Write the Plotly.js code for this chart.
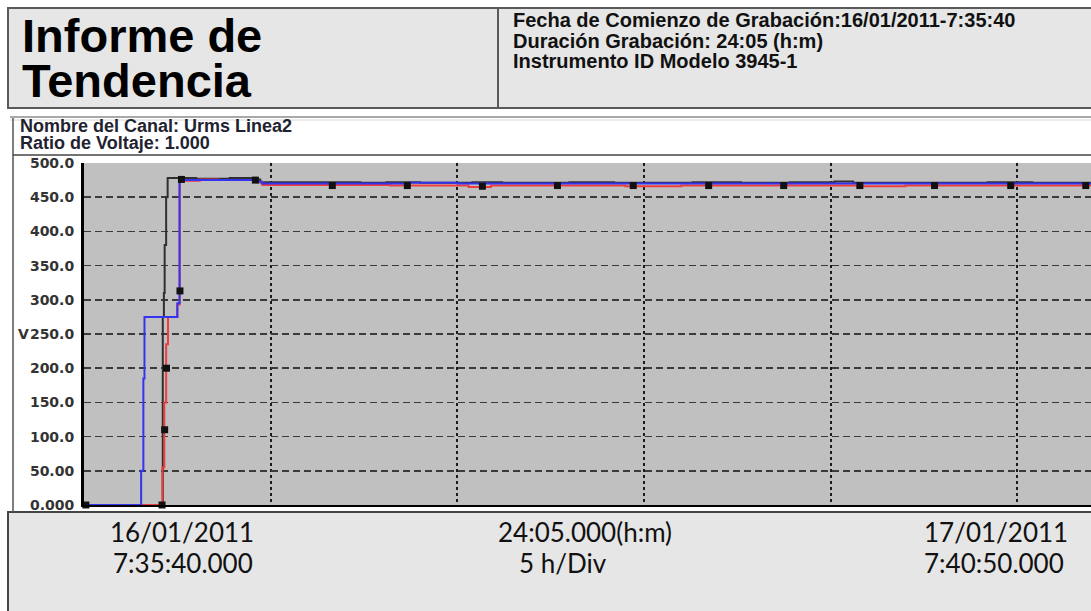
<!DOCTYPE html>
<html>
<head>
<meta charset="utf-8">
<script src="https://cdn.plot.ly/plotly-3.0.1.min.js"></script>
<style>
html,body{margin:0;padding:0;background:#fff;}
#chart{width:1091px;height:611px;}
</style>
</head>
<body>
<div id="chart"></div>
<script>
// ---- Data (hours since start, volts) ----
const tBlack = [0, 2.11, 2.14, 2.16, 2.20, 2.24, 3.0, 3.9, 4.55, 4.72, 6.0, 7.4, 8.1, 9.0, 10.4, 11.2, 12.5, 13.0, 14.2, 15.4, 16.3, 17.6, 18.9, 20.1, 20.6, 22.3, 23.5, 24.2, 25.4, 26.97];
const vBlack = [0, 275, 310, 380, 450, 478, 477, 478, 476, 472, 472, 471, 472, 471, 472, 471, 471, 472, 471, 471, 472, 471, 472, 473, 471, 471, 471, 472, 471, 471];

const tRed = [0, 2.10, 2.15, 2.20, 2.25, 2.50, 2.56, 3.1, 3.6, 4.62, 4.78, 6.3, 8.2, 9.2, 10.3, 10.9, 12.0, 13.6, 14.5, 16.0, 17.8, 19.5, 20.7, 22.0, 23.4, 25.0, 26.97];
const vRed = [0, 55, 150, 235, 275, 293, 474, 476, 475, 472, 468, 468, 467, 467, 465, 467, 467, 467, 466, 467, 467, 467, 466, 467, 467, 467, 467];

const tBlue = [0, 1.53, 1.59, 1.62, 2.50, 2.56, 3.5, 4.62, 4.76, 6.5, 8.0, 8.7, 10.0, 11.5, 13.1, 14.9, 16.5, 18.2, 19.7, 21.3, 22.8, 24.6, 26.97];
const vBlue = [0, 50, 185, 275, 295, 475, 475, 473, 470, 470, 470, 471, 470, 470, 470, 470, 470, 470, 470, 470, 470, 470, 470];

const tMarks = [0.05, 2.09, 2.16, 2.21, 2.57, 2.61, 4.59, 6.65, 8.66, 10.67, 12.68, 14.71, 16.73, 18.74, 20.78, 22.78, 24.82, 26.83];
const vMarks = [0, 0, 110, 200, 313, 476, 475, 467, 467, 466, 467, 467, 467, 467, 467, 467, 467, 467];

const yTickVals = [0, 50, 100, 150, 200, 250, 300, 350, 400, 450, 500];
const yTickText = ['0.000', '50.00', '100.0', '150.0', '200.0', '250.0', '300.0', '350.0', '400.0', '450.0', '500.0'];

const titleLines = ['Informe de', 'Tendencia'];
const infoLines = ['Fecha de Comienzo de Grabación:16/01/2011-7:35:40', 'Duración Grabación: 24:05 (h:m)', 'Instrumento ID Modelo 3945-1'];
const channelLines = ['Nombre del Canal: Urms Linea2', 'Ratio de Voltaje: 1.000'];
const footerStart = ['16/01/2011', '7:35:40.000'];
const footerMid = ['24:05.000(h:m)', '5 h/Div'];
const footerEnd = ['17/01/2011', '7:40:50.000'];
const xRange = [0, 26.97];
const yRange = [0, 500];

// ---- Layout helpers (pixel -> paper) ----
const L = 84, R = 0, T = 163, B = 106, W = 1091, H = 611;
const PW = W - L - R, PH = H - T - B;
const px = x => (x - L) / PW;
const py = y => (H - B - y) / PH;

function rect(x0, y0, x1, y1, fill, lc, lw) {
  return {type: 'rect', xref: 'paper', yref: 'paper', x0: px(x0), x1: px(x1), y0: py(y1), y1: py(y0),
    fillcolor: fill, line: {color: lc, width: lw}, layer: 'below'};
}
function line(x0, y0, x1, y1, lc, lw) {
  return {type: 'line', xref: 'paper', yref: 'paper', x0: px(x0), x1: px(x1), y0: py(y0), y1: py(y1),
    line: {color: lc, width: lw}};
}
function label(text, x, y, font, xanchor) {
  return {text: text, xref: 'paper', yref: 'paper', x: px(x), y: py(y), xanchor: xanchor || 'left', yanchor: 'middle',
    showarrow: false, font: font};
}

const titleFont = {family: 'Liberation Sans, Arial, sans-serif', size: 47, color: '#000', weight: 'bold'};
const infoFont = {family: 'Liberation Sans, Arial, sans-serif', size: 20, color: '#111', weight: 'bold'};
const chanFont = {family: 'Liberation Sans, Arial, sans-serif', size: 18, color: '#1f2330', weight: 'bold'};
const footFont = {family: 'Lato, Open Sans, sans-serif', size: 26, color: '#111'};
const tickFont = {family: 'DejaVu Sans, sans-serif', size: 14, color: '#333', weight: 'bold'};

const shapes = [
  rect(8, 8, 1100, 108, '#e6e6e6', '#5a5a5a', 2),
  line(498, 8, 498, 108, '#5a5a5a', 2),
  line(10, 117, 1100, 117, '#8c8c8c', 1.5),
  line(10, 120, 1100, 120, '#d8d8d8', 1),
  line(13, 118, 13, 512, '#555', 1.5),
  line(13, 155, 1100, 155, '#444', 1.5),
  rect(8, 512, 1100, 620, '#e6e6e6', '#444', 2)
];

const annotations = [
  label(titleLines[0], 20, 35, titleFont),
  label(titleLines[1], 20, 80, titleFont),
  label(infoLines[0], 511, 20, infoFont),
  label(infoLines[1], 511, 41, infoFont),
  label(infoLines[2], 511, 61, infoFont),
  label(channelLines[0], 18, 126, chanFont),
  label(channelLines[1], 18, 143, chanFont),
  label('V', 16, 334, tickFont),
  label(footerStart[0], 182, 532, footFont, 'center'),
  label(footerStart[1], 183, 563, footFont, 'center'),
  label(footerMid[0], 585, 532, footFont, 'center'),
  label(footerMid[1], 563, 563, footFont, 'center'),
  label(footerEnd[0], 996, 532, footFont, 'center'),
  label(footerEnd[1], 994, 563, footFont, 'center')
];

const traces = [
  {x: tBlack, y: vBlack, mode: 'lines', line: {color: '#303030', width: 2, shape: 'hv'}, hoverinfo: 'skip'},
  {x: tRed, y: vRed, mode: 'lines', line: {color: '#f03c3c', width: 2, shape: 'hv'}, hoverinfo: 'skip'},
  {x: tBlue, y: vBlue, mode: 'lines', line: {color: '#3333f0', width: 2, shape: 'hv'}, hoverinfo: 'skip'},
  {x: tMarks, y: vMarks, mode: 'markers', marker: {symbol: 'square', size: 7, color: '#111'}, cliponaxis: false, hoverinfo: 'skip'}
];

const layout = {
  width: W, height: H,
  margin: {l: L, r: R, t: T, b: B, pad: 0},
  paper_bgcolor: '#ffffff',
  plot_bgcolor: '#c0c0c0',
  showlegend: false,
  xaxis: {
    range: xRange, dtick: 5, tick0: 0, showticklabels: false, ticks: '',
    showgrid: true, gridcolor: '#1a1a1a', gridwidth: 2, griddash: '3px,3px',
    zeroline: false, showline: true, linecolor: '#000', linewidth: 2, fixedrange: true
  },
  yaxis: {
    range: yRange, tickvals: yTickVals, ticktext: yTickText, ticks: '',
    tickfont: tickFont, ticklabelstandoff: 4,
    showgrid: true, gridcolor: '#3a3a3a', gridwidth: 1.5, griddash: '7px,4px',
    zeroline: false, showline: true, linecolor: '#000', linewidth: 3, fixedrange: true
  },
  shapes: shapes,
  annotations: annotations
};

Plotly.newPlot('chart', traces, layout, {staticPlot: true, displayModeBar: false});
</script>
</body>
</html>
